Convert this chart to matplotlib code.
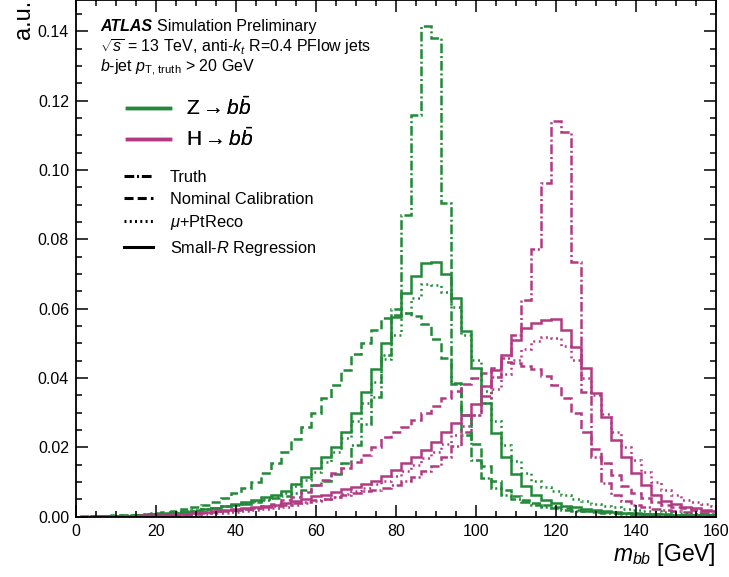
import numpy as np
import matplotlib
matplotlib.use("Agg")
import matplotlib.pyplot as plt
from matplotlib.lines import Line2D

plt.rcParams['font.family'] = ['Liberation Sans', 'DejaVu Sans']
plt.rcParams['mathtext.fontset'] = 'custom'
plt.rcParams['mathtext.rm'] = 'Liberation Sans'
plt.rcParams['mathtext.it'] = 'Liberation Sans:italic'
plt.rcParams['mathtext.bf'] = 'Liberation Sans:bold'
plt.rcParams['lines.scale_dashes'] = False

# bin edges of m_bb [GeV], 2.5 GeV bins centred on multiples of 2.5
edges = np.arange(1.25, 161.26, 2.5)

# Z -> bb
z_truth = [0, 0.0001, 0.0002, 0.0003, 0.0004, 0.0005, 0.0007, 0.0009,
           0.0011, 0.0013, 0.0016, 0.0019, 0.0022, 0.0026, 0.003, 0.0034,
           0.0038, 0.0043, 0.0048, 0.0054, 0.006, 0.0068, 0.0078, 0.009,
           0.0104, 0.0124, 0.0154, 0.0208, 0.0268, 0.0346, 0.0465, 0.0600,
           0.0869, 0.1158, 0.1414, 0.1379, 0.0904, 0.0384, 0.0235, 0.0163,
           0.0112, 0.0083, 0.0064, 0.0051, 0.0041, 0.0034, 0.0028, 0.0024,
           0.002, 0.0017, 0.0015, 0.0013, 0.0011, 0.001, 0.0009, 0.0008,
           0.0007, 0.0006, 0.0005, 0.0005, 0.0004, 0.0004, 0.0003, 0.0003]
z_nominal = [0.0001, 0.0002, 0.0003, 0.0004, 0.0005, 0.0006, 0.0008, 0.001,
             0.0013, 0.0017, 0.0022, 0.0028, 0.0034, 0.0043, 0.0053, 0.0068,
             0.0084, 0.0101, 0.0127, 0.0154, 0.0187, 0.0223, 0.0259, 0.0298,
             0.0341, 0.0381, 0.0423, 0.0468, 0.0501, 0.0538, 0.0572, 0.0582,
             0.0588, 0.0578, 0.0556, 0.0512, 0.0458, 0.0385, 0.0292, 0.0210,
             0.0145, 0.0104, 0.0077, 0.006, 0.0048, 0.004, 0.0033, 0.0028,
             0.0024, 0.002, 0.0017, 0.0015, 0.0013, 0.0011, 0.001, 0.0009,
             0.0008, 0.0007, 0.0006, 0.0005, 0.0005, 0.0004, 0.0004, 0.0003]
z_ptreco = [0, 0.0001, 0.0001, 0.0002, 0.0003, 0.0004, 0.0005, 0.0007,
            0.0009, 0.0011, 0.0014, 0.0017, 0.0021, 0.0025, 0.003, 0.0035,
            0.004, 0.0046, 0.0052, 0.0059, 0.0068, 0.0088, 0.0107, 0.013,
            0.0158, 0.0188, 0.0228, 0.0275, 0.0328, 0.0388, 0.0455, 0.0525,
            0.0588, 0.0632, 0.0670, 0.0668, 0.0648, 0.0605, 0.0525, 0.0452,
            0.0362, 0.0275, 0.0208, 0.0160, 0.0125, 0.0102, 0.0086, 0.0073,
            0.0062, 0.0052, 0.0044, 0.0037, 0.0032, 0.0027, 0.0023, 0.002,
            0.0017, 0.0015, 0.0013, 0.0011, 0.001, 0.0009, 0.0008, 0.0007]
z_regression = [0, 0.0001, 0.0001, 0.0002, 0.0003, 0.0004, 0.0005, 0.0007,
                0.0009, 0.0011, 0.0014, 0.0017, 0.0021, 0.0025, 0.003, 0.0036,
                0.0042, 0.0049, 0.0056, 0.0063, 0.0075, 0.0093, 0.0115, 0.014,
                0.0173, 0.0202, 0.0245, 0.0298, 0.036, 0.0425, 0.05, 0.0575,
                0.0644, 0.0694, 0.0732, 0.0735, 0.0701, 0.0631, 0.0535, 0.0428,
                0.0327, 0.0242, 0.0173, 0.0122, 0.0088, 0.0062, 0.0048, 0.0039,
                0.0032, 0.0027, 0.0023, 0.0019, 0.0016, 0.0014, 0.0012, 0.001,
                0.0009, 0.0008, 0.0007, 0.0006, 0.0005, 0.0005, 0.0004, 0.0004]

# H -> bb
h_truth = [0, 0.0001, 0.0001, 0.0002, 0.0002, 0.0003, 0.0004, 0.0005,
           0.0006, 0.0007, 0.0009, 0.0011, 0.0013, 0.0015, 0.0017, 0.0019,
           0.0022, 0.0025, 0.0028, 0.0031, 0.0035, 0.0039, 0.0043, 0.0047,
           0.0052, 0.0057, 0.0062, 0.0068, 0.0074, 0.0078, 0.0083, 0.0091,
           0.0103, 0.0115, 0.0132, 0.0146, 0.0172, 0.0205, 0.0245, 0.0293,
           0.0348, 0.0403, 0.0458, 0.0525, 0.0624, 0.0773, 0.0963, 0.1141,
           0.1110, 0.0735, 0.0360, 0.0173, 0.0096, 0.0062, 0.0045, 0.0035,
           0.0028, 0.0023, 0.0019, 0.0016, 0.0014, 0.0012, 0.001, 0.0009]
h_nominal = [0, 0.0001, 0.0001, 0.0002, 0.0002, 0.0003, 0.0004, 0.0004,
             0.0005, 0.0006, 0.0007, 0.0009, 0.0011, 0.0013, 0.0015, 0.0018,
             0.0022, 0.0026, 0.0031, 0.0038, 0.0047, 0.0058, 0.0072, 0.0091,
             0.0106, 0.0125, 0.0139, 0.0158, 0.0178, 0.0202, 0.0231, 0.0245,
             0.026, 0.028, 0.0298, 0.0318, 0.0342, 0.0362, 0.0382, 0.0400,
             0.0415, 0.0430, 0.0445, 0.0443, 0.0435, 0.0425, 0.0405, 0.0380,
             0.0343, 0.0298, 0.0245, 0.0195, 0.0156, 0.0121, 0.0089, 0.0067,
             0.0053, 0.0041, 0.0034, 0.0028, 0.0024, 0.002, 0.0017, 0.0015]
h_ptreco = [0, 0, 0.0001, 0.0001, 0.0002, 0.0002, 0.0003, 0.0003,
            0.0004, 0.0005, 0.0006, 0.0007, 0.0009, 0.001, 0.0012, 0.0014,
            0.0016, 0.0019, 0.0022, 0.0025, 0.0029, 0.0034, 0.0039, 0.0045,
            0.0051, 0.0058, 0.0066, 0.0074, 0.0083, 0.0093, 0.0104, 0.0117,
            0.0132, 0.0149, 0.0168, 0.0188, 0.021, 0.0235, 0.0262, 0.0292,
            0.0328, 0.0368, 0.0412, 0.0452, 0.0485, 0.0508, 0.0519, 0.0515,
            0.0492, 0.0452, 0.0400, 0.0350, 0.0296, 0.0245, 0.0200, 0.0163,
            0.0128, 0.0101, 0.0078, 0.0062, 0.0049, 0.0042, 0.0036, 0.003]
h_regression = [0, 0.0001, 0.0001, 0.0002, 0.0002, 0.0003, 0.0004, 0.0005,
                0.0006, 0.0007, 0.0009, 0.0011, 0.0013, 0.0015, 0.0018, 0.0021,
                0.0024, 0.0027, 0.0031, 0.0035, 0.004, 0.0046, 0.0052, 0.0059,
                0.0064, 0.0071, 0.0079, 0.0087, 0.0094, 0.0103, 0.0118, 0.0136,
                0.0154, 0.0173, 0.0192, 0.0216, 0.0245, 0.0269, 0.0293, 0.0325,
                0.0378, 0.0422, 0.0465, 0.0509, 0.0543, 0.0559, 0.0567, 0.0570,
                0.0538, 0.049, 0.0428, 0.0356, 0.0288, 0.0221, 0.0173, 0.0125,
                0.0091, 0.0062, 0.0045, 0.0036, 0.0029, 0.0024, 0.002, 0.0017]

green = '#23893a'
magenta = '#b13a83'
ls_truth = (0, (7, 2, 1.5, 2))
ls_nominal = (0, (6.5, 3))
ls_ptreco = (0, (1.4, 2.6))
ls_regr = '-'
lw = 1.8

fig = plt.figure(figsize=(7.29, 5.77), dpi=100)
ax = fig.add_axes([76 / 729, 60.3 / 577, 640 / 729, 516.7 / 577])

for vals, col in [(z_truth, green), (h_truth, magenta)]:
    ax.stairs(vals, edges, color=col, lw=lw, linestyle=ls_truth)
for vals, col in [(z_nominal, green), (h_nominal, magenta)]:
    ax.stairs(vals, edges, color=col, lw=lw, linestyle=ls_nominal)
for vals, col in [(z_ptreco, green), (h_ptreco, magenta)]:
    ax.stairs(vals, edges, color=col, lw=lw, linestyle=ls_ptreco)
for vals, col in [(z_regression, green), (h_regression, magenta)]:
    ax.stairs(vals, edges, color=col, lw=lw, linestyle=ls_regr)

ax.set_xlim(0, 160)
ax.set_ylim(0, 0.149)
ax.set_xticks(np.arange(0, 161, 20))
ax.set_xticks(np.arange(0, 161, 5), minor=True)
ax.set_yticks(np.arange(0, 0.141, 0.02))
ax.set_yticks(np.arange(0, 0.149, 0.005), minor=True)
ax.yaxis.set_major_formatter(matplotlib.ticker.FormatStrFormatter('%.2f'))
ax.tick_params(which='both', direction='in', top=True, right=True, width=1.1, labelsize=11.5)
ax.tick_params(which='major', length=8.5)
ax.tick_params(which='minor', length=4.3)
ax.tick_params(axis='x', pad=5)
ax.tick_params(axis='y', pad=5)
for s in ax.spines.values():
    s.set_linewidth(1.3)

ax.set_xlabel(r'$m_{bb}$ [GeV]', fontsize=16.5, loc='right', labelpad=2)
ax.set_ylabel('a.u.', fontsize=17, loc='top', labelpad=2)

# ATLAS label
fig.text(100 / 729, 1 - 31 / 577, 'ATLAS', fontsize=11.5, fontweight='bold', fontstyle='italic', va='baseline')
fig.text(157 / 729, 1 - 31 / 577, 'Simulation Preliminary', fontsize=11.5, va='baseline')
fig.text(100 / 729, 1 - 52 / 577, r'$\sqrt{s}$ = 13 TeV, anti-$k_{t}$ R=0.4 PFlow jets', fontsize=11.5, va='baseline')
fig.text(100 / 729, 1 - 72 / 577, r'$b$-jet $p_{\mathrm{T,\,truth}}$ > 20 GeV', fontsize=11.5, va='baseline')

proc_handles = [Line2D([], [], color=green, lw=2.5), Line2D([], [], color=magenta, lw=2.5)]
proc_labels = [r'Z$\rightarrow b\bar{b}$', r'H$\rightarrow b\bar{b}$']
leg1 = fig.legend(proc_handles, proc_labels, loc='upper left', bbox_to_anchor=(127 / 729, 1 - 96 / 577),
                  frameon=False, fontsize=15, handlelength=2.07, handletextpad=0.77, labelspacing=0.4,
                  borderpad=0, borderaxespad=0)

style_handles = [Line2D([], [], color='k', lw=2.2, linestyle=ls_truth),
                 Line2D([], [], color='k', lw=2.2, linestyle=ls_nominal),
                 Line2D([], [], color='k', lw=2.2, linestyle=(0, (1.4, 2.4))),
                 Line2D([], [], color='k', lw=2.2, linestyle='-')]
style_labels = ['Truth', 'Nominal Calibration', r'$\mu$+PtReco', r'Small-$R$ Regression']
leg2 = fig.legend(style_handles, style_labels, loc='upper left', bbox_to_anchor=(124 / 729, 1 - 170 / 577),
                  frameon=False, fontsize=11.8, handlelength=1.77, handletextpad=1.04, labelspacing=0.4,
                  borderpad=0, borderaxespad=0)
fig.add_artist(leg1)

fig.savefig('out.png', dpi=100)
